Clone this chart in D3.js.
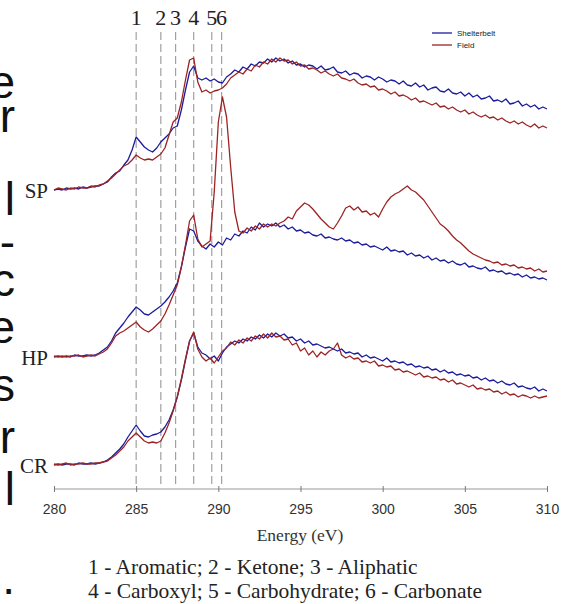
<!DOCTYPE html>
<html>
<head>
<meta charset="utf-8">
<script src="https://cdn.jsdelivr.net/npm/d3@7"></script>
<style>
  body { margin: 0; background: #fff; }
  svg { display: block; }
</style>
</head>
<body>
<div class="chart-container"></div>
<script>
// energy grid of the spectra, 280-310 eV every 0.25 eV
var energy = d3.range(0, 121).map(i => 280 + i * 0.25);

// samples, stacked bottom to top
var samples = ['CR', 'HP', 'SP'];
var sampleOffsets = [24, 132, 299];
var seriesNames = ['Shelterbelt', 'Field'];

// peak markers
var peakEnergies = [285.0, 286.5, 287.4, 288.5, 289.6, 290.2];
var peakLabels = ['1', '2', '3', '4', '5', '6'];
var xTicks = [280, 285, 290, 295, 300, 305, 310];
var noteLines = ['1 - Aromatic; 2 - Ketone; 3 - Aliphatic', '4 - Carboxyl; 5 - Carbohydrate; 6 - Carbonate'];

// normalised absorbance (a.u.), relative to each sample's baseline
var spShelterbelt = [0,1,0,2,1,2,1,3,2,3,4,4, 6,8,13,17,19,25,30,40,53,48,43,40,
  38,42,48,52,56,62,64,80,100,118,124,112, 110,112,109,111,108,107,113,116,120,118,123,121,
  126,124,128,127,131,128,132,129,131,127,129,125, 126,123,125,124,121,124,120,121,123,118,117,119,
  115,117,116,112,114,113,110,113,111,108,110,109, 106,109,105,104,107,103,105,100,102,103,99,98,
  101,97,96,98,94,97,93,95,91,92,94,89, 90,88,91,86,87,89,84,86,83,85,81,83, 81];
var spField = [0,2,1,0,2,1,3,2,2,4,3,5, 6,9,12,16,20,24,26,30,35,32,30,31,
  30,33,36,42,55,68,72,88,110,130,132,108, 98,100,97,99,100,102,106,112,115,118,116,121,
  119,125,123,128,126,131,128,132,129,130,126,128, 124,125,121,122,120,117,119,116,114,116,112,111,
  109,111,107,105,106,103,104,100,101,99,96,98, 94,95,93,90,92,88,89,87,85,87,83,84,
  81,83,80,78,80,76,78,75,73,75,72,73, 70,72,69,67,69,66,68,65,63,66,62,64, 62];
var hpShelterbelt = [0,1,0,1,0,2,1,1,2,1,2,4, 7,10,16,24,29,34,40,45,50,47,43,42,
  45,48,51,55,60,66,74,90,110,128,126,116, 111,108,113,110,115,112,119,117,123,121,126,124,
  130,127,134,130,133,131,134,130,132,128,130,126, 127,124,125,122,121,123,119,120,118,117,119,116,
  117,114,115,112,113,110,111,109,107,110,106,107, 105,106,102,104,101,102,99,101,97,99,96,97,
  94,96,93,92,94,90,91,89,88,90,86,87, 85,86,83,84,82,83,80,82,79,80,78,79, 77];
var hpField = [1,0,1,0,1,1,2,0,1,2,1,3, 5,8,14,21,24,26,29,32,35,30,27,25,
  28,32,36,43,52,62,72,90,112,136,142,118, 110,113,116,165,235,260,240,190,145,126,124,129,
  126,131,128,133,130,133,131,134,136,140,138,146, 150,154,152,148,143,138,134,130,128,134,141,149,
  151,147,150,145,146,142,144,140,148,155,160,163, 165,168,171,167,165,161,157,151,145,139,133,130,
  126,121,117,114,110,106,103,101,99,97,96,94, 95,92,93,91,92,89,90,88,89,86,88,85, 86];
var crShelterbelt = [0,1,0,1,1,0,2,1,1,2,1,2, 3,5,8,12,16,21,28,34,40,34,29,28,
  30,31,33,38,45,55,68,85,105,124,132,118, 112,110,106,109,104,112,118,121,124,122,126,124,
  128,126,130,127,131,128,132,129,131,127,128,124, 126,122,124,120,121,119,117,118,116,114,116,112,
  113,111,112,108,110,107,108,106,104,107,103,104, 102,103,100,101,98,99,97,98,95,96,93,95,
  92,93,90,91,89,90,87,88,85,87,84,85, 82,84,81,80,82,78,79,77,76,78,74,76, 74];
var crField = [1,0,1,2,0,1,1,2,1,1,2,2, 3,4,7,10,14,18,24,28,32,28,24,22,
  23,22,24,32,42,54,68,86,106,124,133,116, 108,104,107,102,108,114,117,123,120,125,122,127,
  124,129,126,131,127,132,128,129,125,126,120,122, 114,117,110,114,108,113,110,114,116,122,110,107,
  109,106,107,103,104,102,104,99,100,98,99,95, 96,93,94,92,90,92,88,89,87,88,85,86,
  83,85,81,82,80,78,80,76,77,75,76,73, 74,71,73,70,71,68,70,69,67,69,67,68, 69];

var spectra = {
  CR: [crShelterbelt, crField],
  HP: [hpShelterbelt, hpField],
  SP: [spShelterbelt, spField]
};

// cut-off letters of the neighbouring page column
var edgeText = ['e', 'r', 'l', '-', 'c', 'e', 's', 'r', 'l', '.'];
var edgeBaselines = [98, 132, 215, 258, 296, 343, 401, 453, 505, 594];

var colors = ['#1c1c9c', '#9c2424'];

var W = 574, H = 604;
var plotLeft = 54, plotRight = 547, plotTop = 29, plotBottom = 489;

var svg = d3.select('.chart-container').append('svg')
  .attr('width', W)
  .attr('height', H);

var x = d3.scaleLinear().domain([280, 310]).range([plotLeft, plotRight]);
var y = d3.scaleLinear().domain([0, 460]).range([plotBottom, plotTop]);

svg.append('g').selectAll('text')
  .data(edgeText)
  .enter().append('text')
    .attr('x', 15)
    .attr('y', (d, i) => edgeBaselines[i])
    .attr('text-anchor', 'end')
    .style('font-family', 'Liberation Sans, Arial, sans-serif')
    .style('font-size', '46px')
    .style('fill', '#111')
    .text(d => d);

// dashed peak lines
svg.append('g').selectAll('line')
  .data(peakEnergies)
  .enter().append('line')
    .attr('x1', d => x(d)).attr('x2', d => x(d))
    .attr('y1', 32).attr('y2', plotBottom - 3)
    .style('stroke', '#a0a0a0')
    .style('stroke-width', 1.2)
    .style('stroke-dasharray', '8,4');

svg.append('g').selectAll('text')
  .data(peakLabels)
  .enter().append('text')
    .attr('x', (d, i) => x(peakEnergies[i]))
    .attr('y', 25)
    .attr('text-anchor', 'middle')
    .style('font-family', 'Liberation Serif, Times New Roman, serif')
    .style('font-size', '22px')
    .style('fill', '#222')
    .text(d => d);

// spectra
var line = d3.line()
  .x((d, i) => x(energy[i]));

samples.forEach(function(s, k) {
  var off = sampleOffsets[k];
  spectra[s].forEach(function(vals, j) {
    svg.append('path')
      .datum(vals)
      .attr('d', line.y(d => y(d + off)))
      .style('fill', 'none')
      .style('stroke', colors[j])
      .style('stroke-width', 1.3)
      .style('stroke-linejoin', 'round');
  });
  svg.append('text')
    .attr('x', 48)
    .attr('y', y(off) + 8)
    .attr('text-anchor', 'end')
    .style('font-family', 'Liberation Serif, Times New Roman, serif')
    .style('font-size', '21px')
    .style('fill', '#222')
    .text(s);
});

// x axis
var xAxis = d3.axisBottom(x)
  .tickValues(xTicks)
  .tickSize(6)
  .tickFormat(d3.format('d'));

var gX = svg.append('g')
  .attr('transform', `translate(0,${plotBottom - 3})`)
  .call(xAxis);
gX.select('.domain').attr('d', `M${plotLeft},3H${plotRight}`).style('stroke', '#999');
gX.selectAll('.tick line').style('stroke', '#777');
gX.selectAll('.tick text')
  .attr('dy', '0.71em')
  .attr('y', 18)
  .style('font-family', 'Liberation Sans, Arial, sans-serif')
  .style('font-size', '14px')
  .style('fill', '#333');

svg.append('text')
  .attr('x', 300)
  .attr('y', 541)
  .attr('text-anchor', 'middle')
  .style('font-family', 'Liberation Serif, Times New Roman, serif')
  .style('font-size', '17.5px')
  .style('fill', '#333')
  .text('Energy (eV)');

svg.append('g').selectAll('text')
  .data(noteLines)
  .enter().append('text')
    .attr('x', 88)
    .attr('y', (d, i) => 574 + i * 24)
    .style('font-family', 'Liberation Serif, Times New Roman, serif')
    .style('font-size', '21.5px')
    .style('fill', '#222')
    .text(d => d);

// legend
var legend = svg.append('g').attr('transform', 'translate(432,33)');
seriesNames.forEach(function(n, i) {
  legend.append('line')
    .attr('x1', 0).attr('x2', 20)
    .attr('y1', i * 12).attr('y2', i * 12)
    .style('stroke', colors[i])
    .style('stroke-width', 1.3);
  legend.append('text')
    .attr('x', 25)
    .attr('y', i * 12 + 3)
    .style('font-family', 'Liberation Sans, Arial, sans-serif')
    .style('font-size', '8px')
    .style('fill', '#222')
    .text(n);
});
</script>
</body>
</html>
